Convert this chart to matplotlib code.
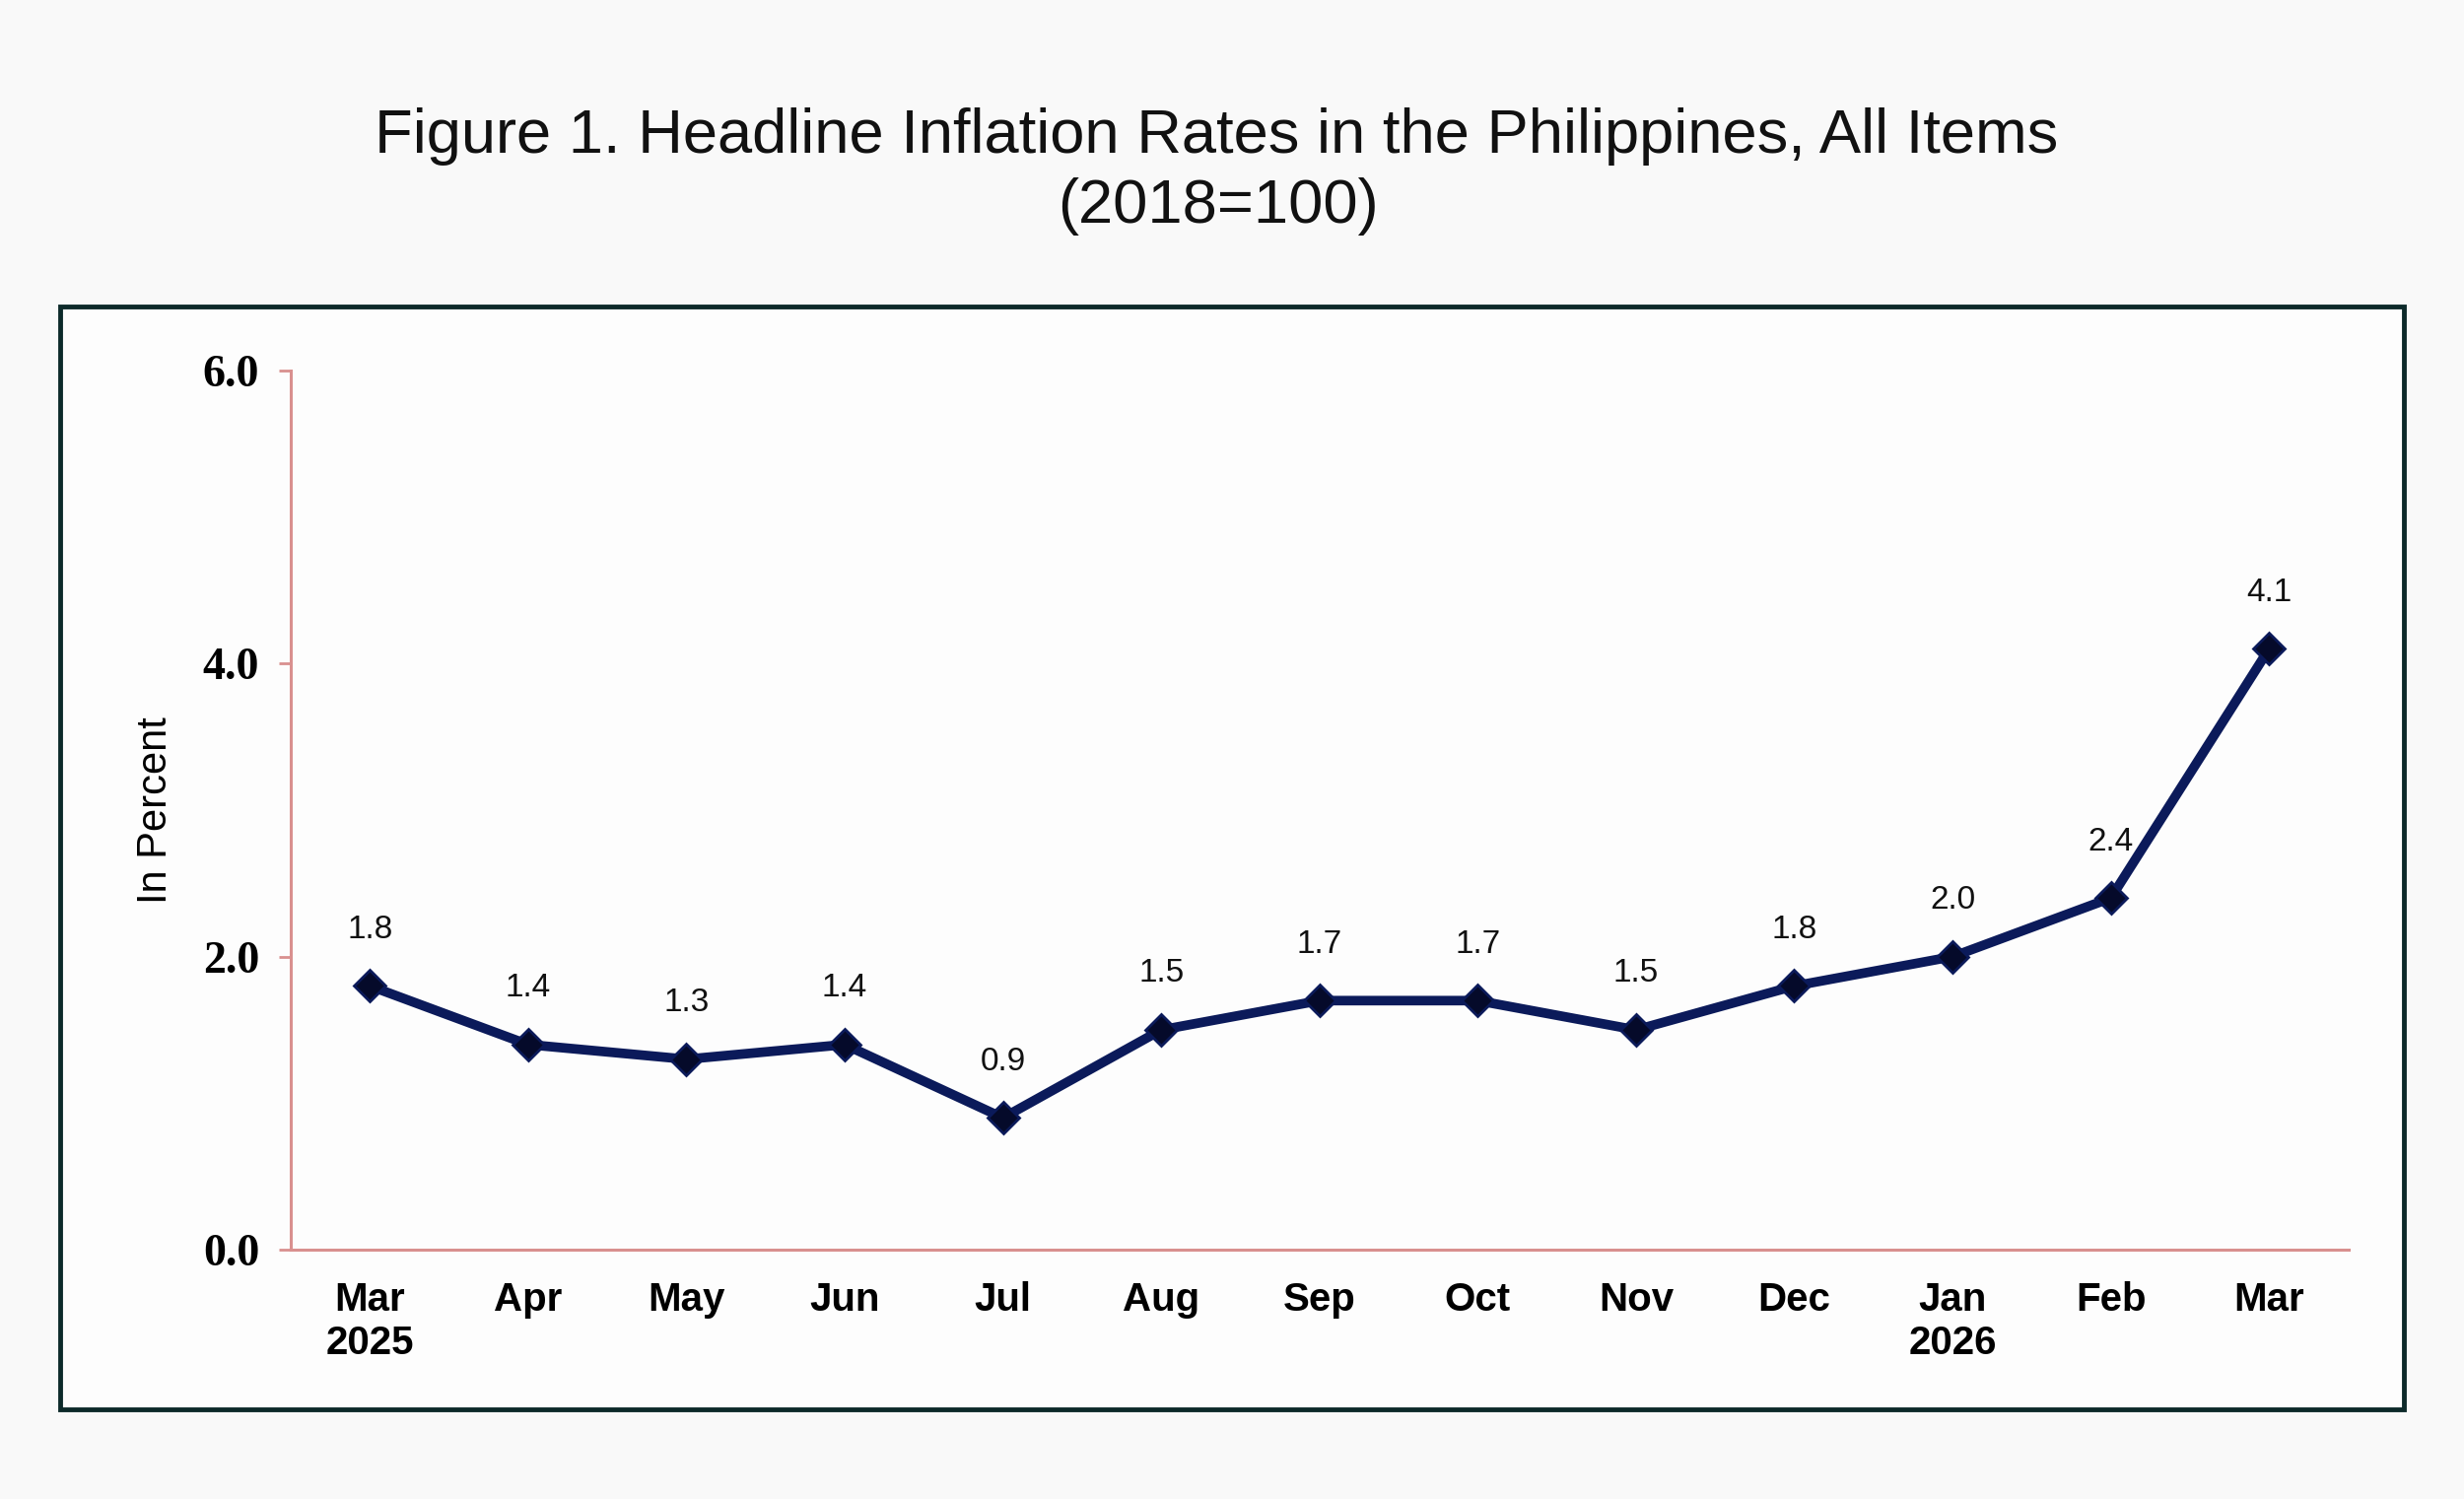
import matplotlib.pyplot as plt
from matplotlib.patches import Rectangle

# data
months = ["Mar\n2025", "Apr", "May", "Jun", "Jul", "Aug", "Sep",
          "Oct", "Nov", "Dec", "Jan\n2026", "Feb", "Mar"]
rates = [1.8, 1.4, 1.3, 1.4, 0.9, 1.5, 1.7, 1.7, 1.5, 1.8, 2.0, 2.4, 4.1]
yticks = [0.0, 2.0, 4.0, 6.0]

plt.rcParams['font.family'] = ['Liberation Sans', 'DejaVu Sans']

fig = plt.figure(figsize=(25, 15.21), dpi=100, facecolor='#f9f9f9')

# outer box around the plot area
box = Rectangle((0.0244, 0.0597), 0.9512, 0.7359, transform=fig.transFigure,
                facecolor='#fdfdfd', edgecolor='#0d2a2a', linewidth=3.5, zorder=-5)
fig.patches.append(box)

fig.text(0.4935, 0.909, "Figure 1. Headline Inflation Rates in the Philippines, All Items",
         ha='center', va='center', fontsize=45.5, color='#111111')
fig.text(0.4945, 0.862, "(2018=100)", ha='center', va='center', fontsize=45.5,
         color='#111111')

ax = fig.add_axes([0.118, 0.1663, 0.835, 0.5865])
ax.set_facecolor('none')
ax.set_zorder(2)

x = list(range(len(months)))
ax.plot(x, rates, color='#0b1a5a', linewidth=7, marker='D', markersize=16,
        markerfacecolor='#050a2a', markeredgecolor='#0b1a5a', markeredgewidth=2,
        zorder=3)

for xi, v in zip(x, rates):
    ax.annotate(f"{v:.1f}", (xi, v), xytext=(0, 30), textcoords='offset points',
                ha='center', va='bottom', fontsize=24, color='#111111')

ax.set_xlim(-0.5, 12.5)
ax.set_ylim(0, 6)
ax.set_xticks(x)
ax.set_xticklabels(months, fontsize=29, fontweight='bold', linespacing=1.2)
ax.set_yticks(yticks)
ax.set_yticklabels([f"{t:.1f}" for t in yticks], fontsize=33, fontweight='bold',
                   family=['Liberation Serif', 'DejaVu Serif'])

spine_col = '#d9908f'
for side in ['top', 'right']:
    ax.spines[side].set_visible(False)
for side in ['left', 'bottom']:
    ax.spines[side].set_color(spine_col)
    ax.spines[side].set_linewidth(2.2)

ax.tick_params(axis='y', length=9, width=2, color=spine_col, pad=14)
ax.tick_params(axis='x', length=0, pad=23)

ax.set_ylabel("In Percent", fontsize=30, labelpad=20)

plt.savefig('out.png', dpi=100, facecolor=fig.get_facecolor())
